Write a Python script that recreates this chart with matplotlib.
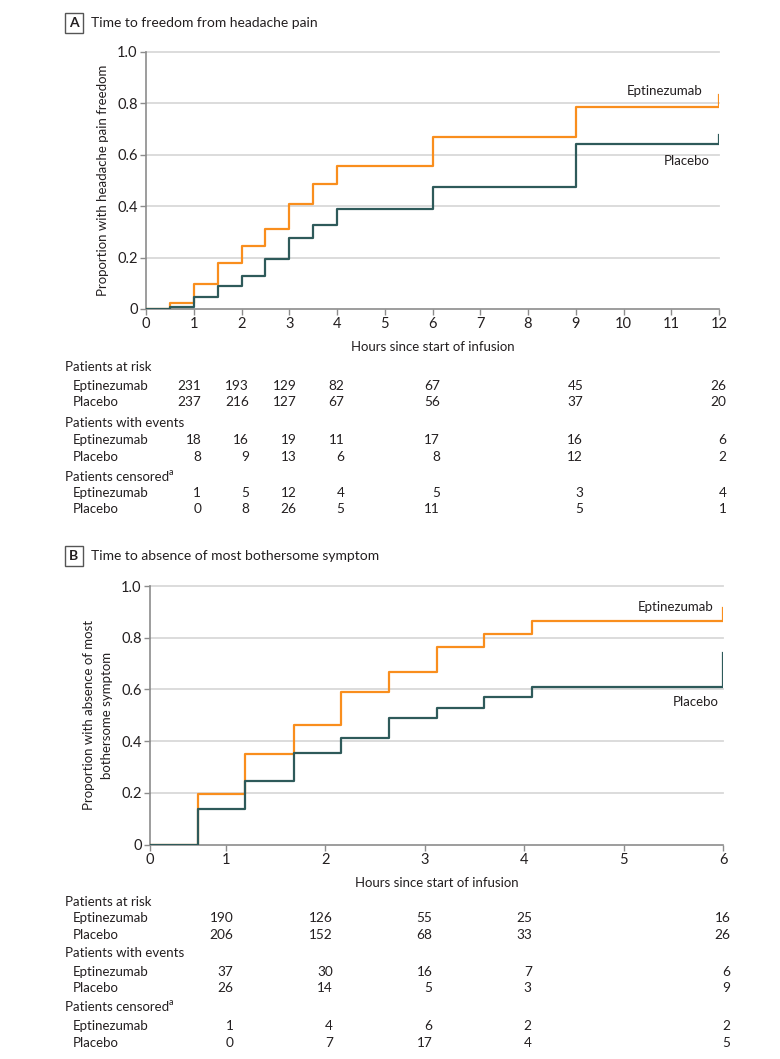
import numpy as np
import matplotlib.pyplot as plt
import matplotlib.transforms as mtransforms

plt.rcParams['font.family'] = ['Lato', 'DejaVu Sans']

ORANGE = '#F98E1D'
TEAL = '#2E5A5A'
TXT = '#231F20'
GRID = '#D9D9D9'
SPINE = '#8C8C8C'

# Panel A: time to freedom from headache pain
a_times = [0, 0.5, 1, 1.5, 2, 2.5, 3, 3.5, 4, 6, 9, 12]
a_epti = [0, 0.022, 0.097, 0.178, 0.247, 0.311, 0.410, 0.485, 0.555, 0.668, 0.785, 0.833]
a_plac = [0, 0.009, 0.045, 0.090, 0.128, 0.195, 0.275, 0.325, 0.388, 0.475, 0.643, 0.678]
a_cols = [1, 2, 3, 4, 6, 9, 12]
a_risk_e = [231, 193, 129, 82, 67, 45, 26]
a_risk_p = [237, 216, 127, 67, 56, 37, 20]
a_evt_e = [18, 16, 19, 11, 17, 16, 6]
a_evt_p = [8, 9, 13, 6, 8, 12, 2]
a_cen_e = [1, 5, 12, 4, 5, 3, 4]
a_cen_p = [0, 8, 26, 5, 11, 5, 1]

# Panel B: time to absence of most bothersome symptom
b_times = [0, 0.63, 1.19, 1.68, 2.16, 2.64, 3.12, 3.60, 4.08, 6]
b_epti = [0, 0.195, 0.351, 0.462, 0.590, 0.666, 0.763, 0.814, 0.866, 0.914]
b_plac = [0, 0.136, 0.244, 0.353, 0.412, 0.489, 0.527, 0.569, 0.608, 0.740]
b_cols = [1, 2, 3, 4, 6]
b_risk_e = [190, 126, 55, 25, 16]
b_risk_p = [206, 152, 68, 33, 26]
b_evt_e = [37, 30, 16, 7, 6]
b_evt_p = [26, 14, 5, 3, 9]
b_cen_e = [1, 4, 6, 2, 2]
b_cen_p = [0, 7, 17, 4, 5]

W, H = 780, 1059
fig = plt.figure(figsize=(W / 100, H / 100), dpi=100)


def px(x, y):
    return x / W, 1 - y / H


def make_axes(left, right, top, bottom):
    return fig.add_axes([left / W, 1 - bottom / H, (right - left) / W, (bottom - top) / H])


def style(ax, xmax, ylabel):
    ax.set_ylim(0, 1.0)
    ax.set_xlim(0, xmax)
    ax.set_yticks([0, 0.2, 0.4, 0.6, 0.8, 1.0])
    ax.set_yticklabels(['0', '0.2', '0.4', '0.6', '0.8', '1.0'])
    ax.set_xticks(range(0, xmax + 1))
    for y in [0.2, 0.4, 0.6, 0.8, 1.0]:
        ax.axhline(y, color=GRID, lw=1.3, zorder=0, clip_on=False)
    for s in ['top', 'right']:
        ax.spines[s].set_visible(False)
    for s in ['left', 'bottom']:
        ax.spines[s].set_color(SPINE)
        ax.spines[s].set_linewidth(1.2)
    ax.tick_params(colors=SPINE, labelcolor=TXT, labelsize=10.5, length=4, width=1, pad=2)
    ax.set_ylabel(ylabel, fontsize=9.5, color=TXT, labelpad=6, linespacing=1.6)
    ax.set_xlabel('Hours since start of infusion', fontsize=9.5, color=TXT, labelpad=7)


def panel_title(letter, title, y):
    fig.text(*px(74, y), letter, fontsize=10, fontweight='bold', color=TXT, ha='center', va='center',
             bbox=dict(boxstyle='square,pad=0.3', fc='white', ec='#555555', lw=1))
    fig.text(*px(91, y), title, fontsize=10, color=TXT, ha='left', va='center')


def table(ax, cols, rows, ys):
    tr = mtransforms.blended_transform_factory(ax.transData, fig.transFigure)
    tr = tr + mtransforms.ScaledTranslation(0.075, 0, fig.dpi_scale_trans)
    headers = ['Patients at risk', 'Patients with events', 'Patients censored']
    k = 0
    for h, head in enumerate(headers):
        t = fig.text(*px(65, ys[k]), head, fontsize=9.5, color=TXT, va='center', ha='left')
        if h == 2:
            ax.annotate('a', xy=(1, 0.85), xycoords=t, fontsize=6.5, color=TXT, va='center', ha='left')
        k += 1
        for name, vals in zip(['Eptinezumab', 'Placebo'], rows[2 * h:2 * h + 2]):
            fig.text(*px(73, ys[k]), name, fontsize=9.5, color=TXT, va='center', ha='left')
            for c, v in zip(cols, vals):
                ax.text(c, 1 - ys[k] / H, str(v), transform=tr, fontsize=9.8, color=TXT,
                        va='center', ha='right')
            k += 1


# ---- Panel A ----
panel_title('A', 'Time to freedom from headache pain', 23)
axA = make_axes(146, 719, 52, 309)
axA.step(a_times, a_epti, where='post', color=ORANGE, lw=1.6, zorder=3)
axA.step(a_times, a_plac, where='post', color=TEAL, lw=1.6, zorder=3)
style(axA, 12, 'Proportion with headache pain freedom')
axA.text(11.65, 0.85, 'Eptinezumab', fontsize=9.5, color=TXT, ha='right', va='center')
axA.text(11.8, 0.575, 'Placebo', fontsize=9.5, color=TXT, ha='right', va='center')
table(axA, a_cols, [a_risk_e, a_risk_p, a_evt_e, a_evt_p, a_cen_e, a_cen_p],
      [367, 386, 402, 423, 440, 457, 477, 493, 509])

# ---- Panel B ----
# the reference axis squeezes the 0-1 h interval
k0 = 0.765


def fwd(x):
    x = np.asarray(x, dtype=float)
    return np.where(x <= 1, x * k0, x - (1 - k0))


def inv(u):
    u = np.asarray(u, dtype=float)
    return np.where(u <= k0, u / k0, u + (1 - k0))


panel_title('B', 'Time to absence of most bothersome symptom', 556)
axB = make_axes(150, 723, 586, 844.5)
axB.set_xscale('function', functions=(fwd, inv))
axB.step(b_times, b_epti, where='post', color=ORANGE, lw=1.6, zorder=3)
axB.step(b_times, b_plac, where='post', color=TEAL, lw=1.6, zorder=3)
style(axB, 6, 'Proportion with absence of most\nbothersome symptom')
axB.text(5.9, 0.92, 'Eptinezumab', fontsize=9.5, color=TXT, ha='right', va='center')
axB.text(5.96, 0.552, 'Placebo', fontsize=9.5, color=TXT, ha='right', va='center')
table(axB, b_cols, [b_risk_e, b_risk_p, b_evt_e, b_evt_p, b_cen_e, b_cen_p],
      [902, 918, 935, 953, 972, 988, 1007, 1026, 1043])

fig.savefig('out.png', dpi=100)
